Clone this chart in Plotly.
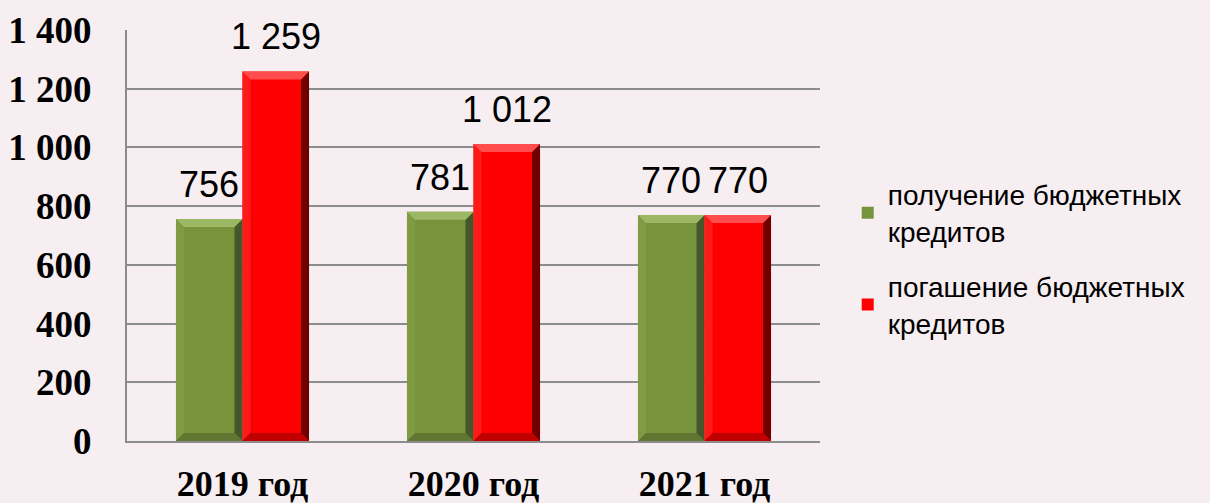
import plotly.graph_objects as go

categories = ["2019 год", "2020 год", "2021 год"]
received = [756, 781, 770]
repaid = [1259, 1012, 770]
series_names = ["получение бюджетных<br>кредитов", "погашение бюджетных<br>кредитов"]

BG = "#f6eef0"
GREEN = "#77933c"
RED = "#ff0000"
BARGAP = 0.424

x_idx = list(range(len(categories)))
fig = go.Figure()
fig.add_trace(go.Bar(x=x_idx, y=received, name=series_names[0], marker_color=GREEN,
                     marker_line_width=0, legendgroup="a"))
fig.add_trace(go.Bar(x=x_idx, y=repaid, name=series_names[1], marker_color=RED,
                     marker_line_width=0, legendgroup="b"))

# geometry for bevel & labels (derived from axis scale)
plot_w_px = 693
plot_h_px = 411
ymax = 1400
bw = (1 - BARGAP) / 2  # width of one bar in category units
px_x = (len(categories)) / plot_w_px  # category units per px
px_y = ymax / plot_h_px
bev_x = 8 * px_x
bev_y = 8 * px_y

shapes = []
annotations = []
styles = [
    (received, -1, "#9cb864", "#45562a", "#5f7530", "#7f9c44"),
    (repaid, 1, "#ff4d4d", "#700000", "#c00000", "#ff1a1a"),
]
for vals, side, top_c, right_c, bot_c, left_c in styles:
    for i, v in enumerate(vals):
        x0 = i + (bw * (side - 1) / 2)
        x1 = x0 + bw
        y0, y1 = 0, v
        shapes.append(dict(type="path", xref="x", yref="y", line_width=0, fillcolor=left_c, layer="above",
                           path=f"M{x0},{y1} L{x0},{y0} L{x0+bev_x},{y0+bev_y} L{x0+bev_x},{y1-bev_y} Z"))
        shapes.append(dict(type="path", xref="x", yref="y", line_width=0, fillcolor=right_c, layer="above",
                           path=f"M{x1},{y1} L{x1},{y0} L{x1-bev_x},{y0+bev_y} L{x1-bev_x},{y1-bev_y} Z"))
        shapes.append(dict(type="path", xref="x", yref="y", line_width=0, fillcolor=bot_c, layer="above",
                           path=f"M{x0},{y0} L{x1},{y0} L{x1-bev_x},{y0+bev_y} L{x0+bev_x},{y0+bev_y} Z"))
        shapes.append(dict(type="path", xref="x", yref="y", line_width=0, fillcolor=top_c, layer="above",
                           path=f"M{x0},{y1} L{x1},{y1} L{x1-bev_x},{y1-bev_y} L{x0+bev_x},{y1-bev_y} Z"))
        label = f"{v:,}".replace(",", " ")
        annotations.append(dict(x=(x0 + x1) / 2, y=v, xref="x", yref="y", text=label, showarrow=False,
                                yanchor="bottom", yshift=12,
                                font=dict(family="Liberation Sans", size=36, color="#000000")))

fig.update_layout(
    width=1210, height=503,
    paper_bgcolor=BG, plot_bgcolor="rgba(0,0,0,0)",
    margin=dict(l=127, r=390, t=30, b=62),
    barmode="group", bargap=BARGAP, bargroupgap=0,
    separators=", ",
    shapes=shapes, annotations=annotations,
    showlegend=True,
    legend=dict(x=1.04, y=0.66, xanchor="left", yanchor="top", bgcolor="rgba(0,0,0,0)",
                font=dict(family="Liberation Sans", size=28, color="#000000"),
                tracegroupgap=16, itemsizing="constant"),
)
tick_font = dict(family="Liberation Serif", size=37, color="#000000", weight="bold")
fig.update_xaxes(range=[-0.5, 2.5], tickvals=x_idx, ticktext=categories, showgrid=False,
                 showline=True, linecolor="#8c8c8c", linewidth=2, ticks="", automargin=False,
                 tickfont=dict(family="Liberation Serif", size=36, color="#000000", weight="bold"),
                 ticklabelstandoff=10, zeroline=False)
fig.update_yaxes(range=[0, ymax], dtick=200, tickformat=",d", showgrid=True, gridcolor="#8c8c8c",
                 gridwidth=2, showline=True, linecolor="#8c8c8c", linewidth=2, ticks="", automargin=False,
                 tickfont=tick_font, ticklabelstandoff=26, zeroline=False)

fig.write_html("out.html", config={"displayModeBar": False},
               post_script="document.body.style.margin='0';document.body.style.background='" + BG + "';")
